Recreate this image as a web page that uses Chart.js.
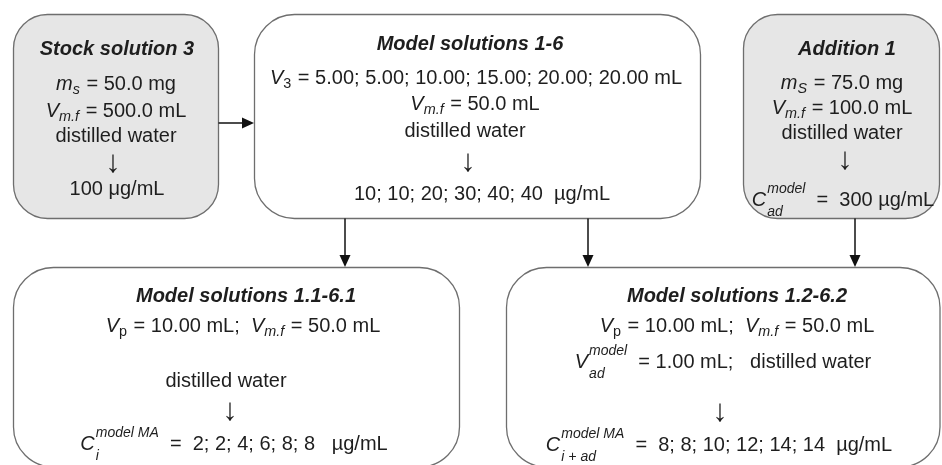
<!DOCTYPE html>
<html>
<head>
<meta charset="utf-8">
<script src="https://cdn.jsdelivr.net/npm/chart.js@4/dist/chart.umd.min.js"></script>
<style>
  html, body { margin: 0; padding: 0; background: #ffffff; }
  #wrap { width: 942px; height: 465px; position: relative; }
</style>
</head>
<body>
<div id="wrap"><canvas id="c" width="942" height="465"></canvas></div>
<script>
// ---------- DATA ----------
const boxTitles = ['Stock solution 3', 'Model solutions 1-6', 'Addition 1',
                   'Model solutions 1.1-6.1', 'Model solutions 1.2-6.2'];
const stockParams = [50.0, 500.0, 100];        // m_s (mg), V_m.f (mL), C (µg/mL)
const additionParams = [75.0, 100.0, 300];     // m_S (mg), V_m.f (mL), C_ad (µg/mL)
const aliquotVolumes = [5.00, 5.00, 10.00, 15.00, 20.00, 20.00]; // V_3 (mL)
const modelVolume = [50.0];                    // V_m.f (mL)
const modelConc = [10, 10, 20, 30, 40, 40];    // µg/mL
const pipetteParams = [10.00, 50.0, 1.00];     // V_p, V_m.f, V_ad (mL)
const model1Conc = [2, 2, 4, 6, 8, 8];         // µg/mL
const model2Conc = [8, 8, 10, 12, 14, 14];     // µg/mL
const solvent = ['distilled water'];
const unitConc = ['µg/mL', 'μg/mL'];

// ---------- LAYOUT / STYLE ----------
const FONT = '"Liberation Sans", Arial, Helvetica, sans-serif';
const TXT = '#1e1e1e';
const boxes = [
  { x0: 13.5, y0: 14.5, x1: 218.5, y1: 218.5, r: 34, fill: '#e6e6e6' },
  { x0: 254.5, y0: 14.5, x1: 700.5, y1: 218.5, r: 40, fill: '#ffffff' },
  { x0: 743.5, y0: 14.5, x1: 939.5, y1: 218.5, r: 34, fill: '#e6e6e6' },
  { x0: 13.5, y0: 267.5, x1: 459.5, y1: 467, r: 40, fill: '#ffffff' },
  { x0: 506.5, y0: 267.5, x1: 940, y1: 467, r: 40, fill: '#ffffff' }
];
const arrows = [
  { x0: 218.5, y0: 123, x1: 254, y1: 123 },
  { x0: 345, y0: 218.5, x1: 345, y1: 267 },
  { x0: 588, y0: 218.5, x1: 588, y1: 267 },
  { x0: 855, y0: 218.5, x1: 855, y1: 267 }
];

const f1 = v => v.toFixed(1), f2 = v => v.toFixed(2);
const T = (t, st) => ({ t, st: st || 'n' });
const SUB = (t, st) => ({ t, st: st || 'n', sub: true });
const STK = (sup, sub) => ({ stack: true, sup, sub });

const lines = [
  // Stock solution 3
  { x: 117, y: 48, runs: [T(boxTitles[0], 'bi')] },
  { x: 116, y: 83, runs: [T('m', 'i'), SUB('s', 'i'), T(' = ' + f1(stockParams[0]) + ' mg')] },
  { x: 116, y: 110, runs: [T('V', 'i'), SUB('m.f', 'i'), T(' = ' + f1(stockParams[1]) + ' mL')] },
  { x: 116, y: 135, runs: [T(solvent[0])] },
  { x: 113, y: 163, arrow: true },
  { x: 117, y: 188, runs: [T(stockParams[2] + ' ' + unitConc[1])] },
  // Model solutions 1-6
  { x: 470, y: 43, runs: [T(boxTitles[1], 'bi')] },
  { x: 476, y: 77, runs: [T('V', 'i'), SUB('3'), T(' = ' + aliquotVolumes.map(f2).join('; ') + ' mL')] },
  { x: 475, y: 103, runs: [T('V', 'i'), SUB('m.f', 'i'), T(' = ' + f1(modelVolume[0]) + ' mL')] },
  { x: 465, y: 130, runs: [T(solvent[0])] },
  { x: 468, y: 162, arrow: true },
  { x: 482, y: 193, runs: [T(modelConc.join('; ') + '  ' + unitConc[0])] },
  // Addition 1
  { x: 847, y: 48, runs: [T(boxTitles[2], 'bi')] },
  { x: 842, y: 82, runs: [T('m', 'i'), SUB('S', 'i'), T(' = ' + f1(additionParams[0]) + ' mg')] },
  { x: 842, y: 107, runs: [T('V', 'i'), SUB('m.f', 'i'), T(' = ' + f1(additionParams[1]) + ' mL')] },
  { x: 842, y: 132, runs: [T(solvent[0])] },
  { x: 845, y: 160, arrow: true },
  { x: 843, y: 199, runs: [T('C', 'i'), STK('model', 'ad'), T('  =  ' + additionParams[2] + ' ' + unitConc[0])] },
  // Model solutions 1.1-6.1
  { x: 246, y: 295, runs: [T(boxTitles[3], 'bi')] },
  { x: 243, y: 325, runs: [T('V', 'i'), SUB('p'), T(' = ' + f2(pipetteParams[0]) + ' mL;  '),
                           T('V', 'i'), SUB('m.f', 'i'), T(' = ' + f1(pipetteParams[1]) + ' mL')] },
  { x: 226, y: 380, runs: [T(solvent[0])] },
  { x: 230, y: 411, arrow: true },
  { x: 234, y: 443, runs: [T('C', 'i'), STK('model MA', 'i'), T('  =  ' + model1Conc.join('; ') + '   ' + unitConc[0])] },
  // Model solutions 1.2-6.2
  { x: 737, y: 295, runs: [T(boxTitles[4], 'bi')] },
  { x: 737, y: 325, runs: [T('V', 'i'), SUB('p'), T(' = ' + f2(pipetteParams[0]) + ' mL;  '),
                           T('V', 'i'), SUB('m.f', 'i'), T(' = ' + f1(pipetteParams[1]) + ' mL')] },
  { x: 723, y: 361, runs: [T('V', 'i'), STK('model', 'ad'), T('  = ' + f2(pipetteParams[2]) + ' mL;   ' + solvent[0])] },
  { x: 720, y: 412, arrow: true },
  { x: 719, y: 444, runs: [T('C', 'i'), STK('model MA', 'i + ad'), T('  =  ' + model2Conc.join('; ') + '  ' + unitConc[0])] }
];

// ---------- DRAWING HELPERS ----------
const SIZE = 20;
function fontFor(st, size) {
  const style = (st === 'i' || st === 'bi') ? 'italic ' : '';
  const weight = st === 'bi' ? 'bold ' : '';
  return style + weight + size + 'px ' + FONT;
}
function runWidth(ctx, r) {
  if (r.stack) {
    ctx.font = fontFor('i', SIZE * 0.7);
    return Math.max(ctx.measureText(r.sup).width, ctx.measureText(r.sub).width) + 1;
  }
  ctx.font = fontFor(r.st, r.sub ? SIZE * 0.72 : SIZE);
  return ctx.measureText(r.t).width + (r.sub ? 1 : 0);
}
function drawRich(ctx, runs, cx, cy) {
  const widths = runs.map(r => runWidth(ctx, r));
  const total = widths.reduce((a, b) => a + b, 0);
  let x = cx - total / 2;
  const base = cy + SIZE * 0.36;
  ctx.fillStyle = TXT;
  ctx.textAlign = 'left';
  ctx.textBaseline = 'alphabetic';
  runs.forEach((r, i) => {
    if (r.stack) {
      ctx.font = fontFor('i', SIZE * 0.7);
      ctx.fillText(r.sup, x + 1, base - SIZE * 0.64);
      ctx.fillText(r.sub, x + 1, base + SIZE * 0.5);
    } else if (r.sub) {
      ctx.font = fontFor(r.st, SIZE * 0.72);
      ctx.fillText(r.t, x, base + SIZE * 0.2);
    } else {
      ctx.font = fontFor(r.st, SIZE);
      ctx.fillText(r.t, x, base);
    }
    x += widths[i];
  });
}
function roundRect(ctx, x0, y0, x1, y1, r) {
  ctx.beginPath();
  ctx.moveTo(x0 + r, y0);
  ctx.lineTo(x1 - r, y0);
  ctx.arcTo(x1, y0, x1, y0 + r, r);
  ctx.lineTo(x1, y1 - r);
  ctx.arcTo(x1, y1, x1 - r, y1, r);
  ctx.lineTo(x0 + r, y1);
  ctx.arcTo(x0, y1, x0, y1 - r, r);
  ctx.lineTo(x0, y0 + r);
  ctx.arcTo(x0, y0, x0 + r, y0, r);
  ctx.closePath();
}

const flowPlugin = {
  id: 'flow',
  afterDraw(chart) {
    const ctx = chart.ctx;
    const sx = chart.scales.x, sy = chart.scales.y;
    const X = v => sx.getPixelForValue(v), Y = v => sy.getPixelForValue(v);
    ctx.save();
    boxes.forEach(b => {
      roundRect(ctx, X(b.x0), Y(b.y0), X(b.x1), Y(b.y1), b.r);
      ctx.fillStyle = b.fill;
      ctx.fill();
      ctx.lineWidth = 1.3;
      ctx.strokeStyle = '#6e6e6e';
      ctx.stroke();
    });
    arrows.forEach(a => {
      const x0 = X(a.x0), y0 = Y(a.y0), x1 = X(a.x1), y1 = Y(a.y1);
      const ang = Math.atan2(y1 - y0, x1 - x0);
      const L = 12, W = 5.5;
      const bx = x1 - L * Math.cos(ang), by = y1 - L * Math.sin(ang);
      ctx.strokeStyle = '#111';
      ctx.lineWidth = 1.5;
      ctx.beginPath(); ctx.moveTo(x0, y0); ctx.lineTo(bx, by); ctx.stroke();
      ctx.fillStyle = '#111';
      ctx.beginPath();
      ctx.moveTo(x1, y1);
      ctx.lineTo(bx - W * Math.sin(ang), by + W * Math.cos(ang));
      ctx.lineTo(bx + W * Math.sin(ang), by - W * Math.cos(ang));
      ctx.closePath(); ctx.fill();
    });
    lines.forEach(l => {
      if (l.arrow) {
        ctx.font = '31px ' + FONT;
        ctx.fillStyle = TXT;
        ctx.textAlign = 'center';
        ctx.textBaseline = 'middle';
        ctx.fillText('↓', X(l.x), Y(l.y));
      } else {
        drawRich(ctx, l.runs, X(l.x), Y(l.y));
      }
    });
    ctx.restore();
  }
};

new Chart(document.getElementById('c'), {
  type: 'scatter',
  data: { datasets: [{ data: [], pointRadius: 0 }] },
  options: {
    responsive: false,
    animation: false,
    devicePixelRatio: 1,
    layout: { padding: 0 },
    plugins: { legend: { display: false }, tooltip: { enabled: false } },
    scales: {
      x: { type: 'linear', min: 0, max: 942, display: false },
      y: { type: 'linear', min: 0, max: 465, reverse: true, display: false }
    }
  },
  plugins: [flowPlugin]
});
</script>
</body>
</html>
